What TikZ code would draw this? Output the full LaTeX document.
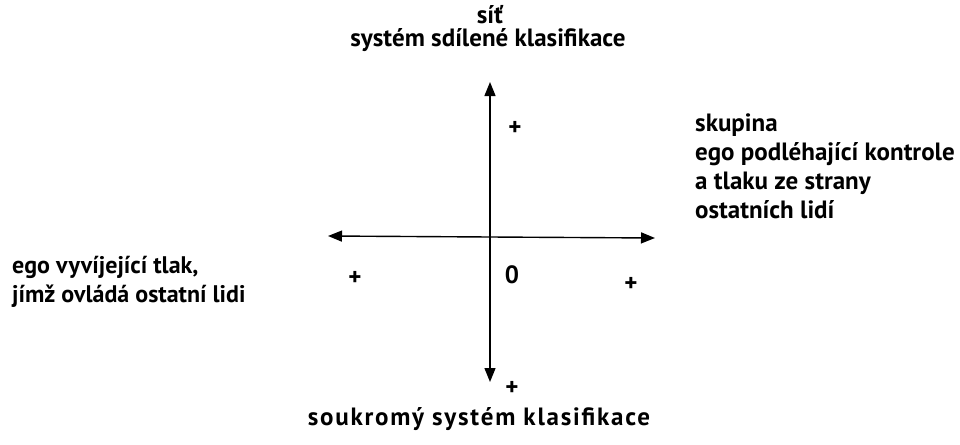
\documentclass[tikz,border=0pt]{standalone}
\usepackage{fontspec}
\setmainfont{PT Sans}
\usetikzlibrary{positioning, arrows.meta}

\tikzset{
    lbl/.style={font=\bfseries\fontsize{25}{29}\selectfont, inner sep=0pt},
    lblsm/.style={font=\bfseries\fontsize{24}{29}\selectfont, inner sep=0pt},
    sgn/.style={font=\bfseries\fontsize{25}{26}\selectfont, inner sep=0pt},
    axis/.style={line width=1.4pt, -{Triangle[length=14pt, width=11pt]}}
}

\begin{document}
\begin{tikzpicture}[x=1pt, y=-1pt]
    \useasboundingbox (0,0) rectangle (960,444);
    \coordinate (O) at (490,237);
    \coordinate (Top) at (490,82);  \coordinate (Bot) at (490,382);
    \coordinate (Left) at (328,236); \coordinate (Right) at (655,238);
    \draw[axis] (O) -- (Top);
    \draw[axis] (O) -- (Bot);
    \draw[axis] (O) -- (Left);
    \draw[axis] (O) -- (Right);

    % popisky os
    \node[lbl] (sit) at (490,15) {síť};
    \node[lbl] (sdil) at (488,40) {systém sdílené klasifikace};
    \node[lbl, font=\bfseries\fontsize{25}{29}\selectfont\addfontfeature{LetterSpace=7}] (souk) at (479,419) {soukromý systém klasifikace};
    \node[lbl, align=left, anchor=north west] (skup) at (695,114) {skupina\\ego podléhající kontrole\\a tlaku ze strany\\ostatních lidí};
    \node[lblsm, align=left, anchor=north west] (egov) at (12,256) {ego vyvíjející tlak,\\jímž ovládá ostatní lidi};

    % znaménka
    \node[sgn] (pT) at (515,128) {+};
    \node[sgn] (pL) at (355,278) {+};
    \node[sgn] (pR) at (631,284) {+};
    \node[sgn] (pB) at (512,388) {+};
    \node[sgn] (nula) at (512,275) {0};
\end{tikzpicture}
\end{document}
